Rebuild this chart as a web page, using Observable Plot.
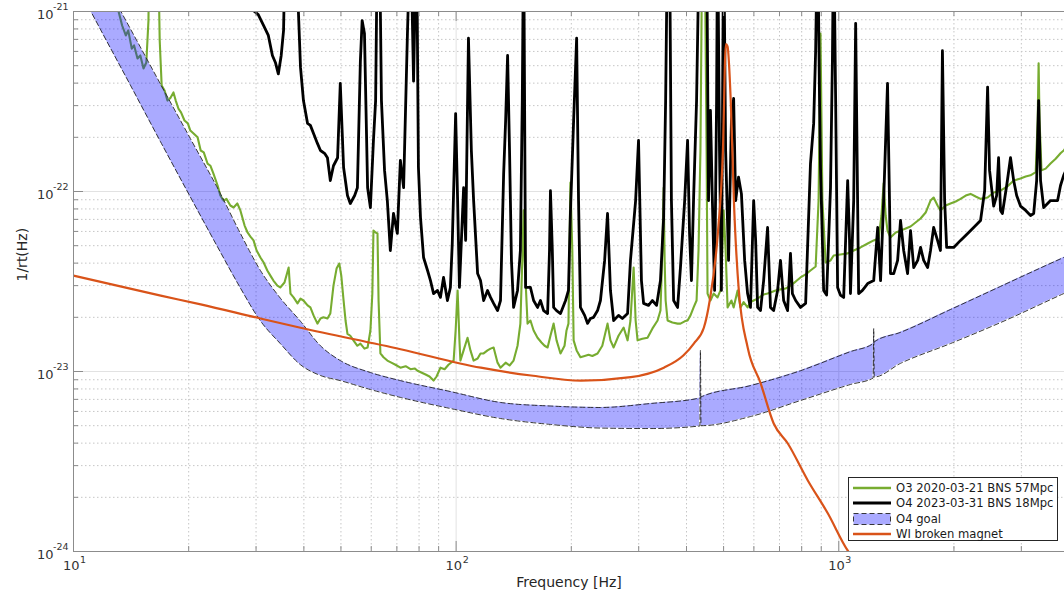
<!DOCTYPE html>
<html>
<head>
<meta charset="utf-8">
<script src="https://cdn.jsdelivr.net/npm/d3@7"></script>
<script src="https://cdn.jsdelivr.net/npm/@observablehq/plot@0.6"></script>
<style>
  body { margin: 0; background: #fff; }
  #wrap { position: relative; width: 1064px; height: 596px; overflow: hidden; font-family: "DejaVu Sans", sans-serif; }
  #legend { position: absolute; left: 848px; top: 477px; width: 210px; height: 64px; box-sizing: border-box;
            border: 1px solid #262626; background: #fff; padding-top: 2px; }
  .row { height: 15.5px; display: flex; align-items: center; font-size: 11.6px; color: #1a1a1a; white-space: nowrap; }
  .row svg { margin-left: 4px; margin-right: 5px; flex: none; }
</style>
</head>
<body>
<div id="wrap"><div id="chart"></div><div id="legend"></div></div>
<script>
// ---------------- data ----------------
const o3Freq = [12.6,13.1,13.4,13.7,13.9,14.2,14.4,14.7,14.95,15.24,15.5,15.7,15.8,16.6,16.8,17.0,17.3,17.6,17.9,18.25,18.5,18.8,19.1,19.5,19.9,20.2,20.6,21.1,21.5,21.9,22.4,22.8,23.2,23.8,24.2,24.7,25.1,25.7,26.2,26.8,27.3,28.0,28.5,29.0,29.55,30.1,30.8,31.4,32.1,32.7,33.3,34.1,34.7,35.6,36.5,36.9,37.6,38.5,39.2,39.9,40.9,41.6,42.4,43.4,44.2,45.0,46.1,46.9,47.8,48.7,49.5,50.1,50.8,51.4,52.0,52.9,53.9,55.2,56.2,57.6,58.7,59.7,60.4,60.8,61.6,62.3,62.7,63.4,64.6,66.1,67.7,69.4,71.5,73.8,76.0,77.9,79.3,81.1,83.2,85.2,87.3,88.9,91.0,93.3,95.5,98.5,99.7,100.9,102,102.6,104.6,107.1,109,111.1,113.8,115.8,118,120.8,123,125.3,128.3,130.6,134.7,137.9,141.3,144.7,147.2,148.9,150.1,151,153.7,156.4,159.4,163.2,167.1,170.3,173.4,176.4,179.8,183,187.4,192,194.3,196.6,197.8,198.9,201.2,202.8,206.5,211.3,216.7,221.9,227,234.2,241,248.7,253.1,258,265.7,274,280.6,285.5,291,294.5,298,306.7,316.4,325.7,336.1,342,345.9,348.6,350.7,352.8,357,367.4,379.1,385.7,395.6,402.6,409.7,417.5,425,430,435,440,446,451.4,454,462,470.9,482.2,490.7,496.3,500.2,506.2,512.2,524.2,531.2,544,553.5,564.2,577.7,587.9,599.2,613.6,624.4,636.3,651.6,663,683.9,704.2,726.3,747.8,771.5,794.3,819.2,843.5,870.1,885.6,895.9,906.2,924.1,951.5,969.8,1010,1055,1094,1140,1190,1234,1271,1293,1310,1326,1341,1365,1409,1450,1496,1540,1570,1636,1687,1737,1770,1812,1844,1903,1959,2021,2081,2147,2210,2279,2347,2449,2540,2647,2763,2865,2985,3080,3171,3271,3310,3329,3348,3387,3473,3576,3689,3798,3871,4034];
const o3Asd = [3e-21,1.01e-21,8.36e-22,7.36e-22,7.85e-22,6.22e-22,6.48e-22,5.48e-22,5.7e-22,4.82e-22,5.21e-22,8.9e-22,3e-21,3e-21,6.9e-22,3.88e-22,3.64e-22,3.2e-22,3.3e-22,3.55e-22,3.2e-22,2.89e-22,2.75e-22,2.48e-22,2.39e-22,2.18e-22,2.1e-22,2.0e-22,1.69e-22,1.65e-22,1.43e-22,1.39e-22,1.26e-22,1.08e-22,9.5e-23,8.9e-23,9.1e-23,8.36e-23,8.15e-23,8.58e-23,7.85e-23,6.47e-23,5.92e-23,5.62e-23,5.35e-23,4.7e-23,4.3e-23,4.03e-23,3.64e-23,3.41e-23,3.2e-23,3.0e-23,2.93e-23,3.12e-23,3.78e-23,2.71e-23,2.58e-23,2.39e-23,2.54e-23,2.48e-23,2.33e-23,2.27e-23,2.05e-23,1.845e-23,1.97e-23,2.0e-23,1.97e-23,2.1e-23,3.0e-23,3.73e-23,3.98e-23,3.41e-23,2.48e-23,1.92e-23,1.62e-23,1.58e-23,1.49e-23,1.39e-23,1.43e-23,1.34e-23,1.36e-23,1.69e-23,2.71e-23,6.06e-23,5.92e-23,5.85e-23,2.48e-23,1.26e-23,1.2e-23,1.15e-23,1.12e-23,1.09e-23,1.05e-23,1.07e-23,1.03e-23,1.04e-23,1.01e-23,9.87e-24,9.62e-24,9.38e-24,8.9e-24,9.38e-24,1.05e-23,1.03e-23,1.09e-23,1.15e-23,1.69e-23,2.82e-23,1.49e-23,1.15e-23,1.31e-23,1.54e-23,1.31e-23,1.15e-23,1.18e-23,1.26e-23,1.26e-23,1.31e-23,1.34e-23,1.36e-23,1.12e-23,1.05e-23,1.12e-23,1.08e-23,1.15e-23,1.39e-23,1.845e-23,4.14e-23,7.85e-23,4.14e-23,1.845e-23,1.92e-23,1.69e-23,1.54e-23,1.45e-23,1.39e-23,1.36e-23,1.58e-23,1.845e-23,1.49e-23,1.26e-23,1.39e-23,1.69e-23,1.845e-23,4.7e-23,1.12e-22,4.7e-23,1.49e-23,1.31e-23,1.2e-23,1.22e-23,1.24e-23,1.22e-23,1.26e-23,1.39e-23,1.845e-23,1.49e-23,1.36e-23,1.58e-23,1.755e-23,1.49e-23,1.92e-23,3.78e-23,1.92e-23,1.49e-23,1.52e-23,1.54e-23,1.73e-23,1.92e-23,2.18e-23,4.7e-23,1.05e-22,4.14e-23,2.48e-23,1.92e-23,1.87e-23,1.845e-23,1.845e-23,1.9e-23,1.92e-23,2.05e-23,2.27e-23,2.48e-23,4.7e-23,1.69e-22,3e-21,3e-21,1.69e-22,2.71e-23,2.48e-23,2.71e-23,2.58e-23,2.82e-23,4.7e-23,7.85e-23,4.7e-23,2.27e-23,2.48e-23,2.27e-23,2.82e-23,2.27e-23,2.43e-23,2.27e-23,2.43e-23,2.48e-23,2.54e-23,2.61e-23,2.68e-23,2.71e-23,2.75e-23,2.82e-23,2.86e-23,2.89e-23,3.0e-23,3.16e-23,3.33e-23,3.46e-23,3.64e-23,3.83e-23,8.9e-23,7.55e-22,8.9e-23,4.03e-23,4.14e-23,4.41e-23,4.47e-23,4.53e-23,4.7e-23,4.89e-23,5.14e-23,5.35e-23,5.48e-23,7.36e-23,1.11e-22,7.36e-23,6.06e-23,5.55e-23,5.92e-23,6.06e-23,6.23e-23,6.39e-23,6.6e-23,7.08e-23,7.64e-23,8.9e-23,9.26e-23,8.36e-23,7.85e-23,8.36e-23,8.58e-23,8.8e-23,9.1e-23,9.5e-23,9.7e-23,9.38e-23,9.1e-23,9.26e-23,9.87e-23,1.01e-22,1.07e-22,1.15e-22,1.18e-22,1.21e-22,1.23e-22,1.28e-22,2.48e-22,5.15e-22,2.48e-22,1.31e-22,1.34e-22,1.43e-22,1.52e-22,1.63e-22,1.69e-22,1.92e-22];

const o4Freq = [29.0,29.55,30.4,31.4,32.3,33.1,33.7,34.3,34.9,35.4,35.8,38.5,38.7,39.2,39.9,40.9,41.6,42.4,43.4,44.2,45.3,46.1,46.9,47.8,49.0,49.8,50.8,52.0,52.9,54.3,55.2,56.2,56.8,57.6,58.7,59.7,60.8,61.6,62.3,63.0,63.8,65.0,66.1,67.3,68.6,70.2,71.5,72.9,74.6,76.0,77.4,78.8,79.7,80.7,82.2,84.2,85.7,87.3,89.4,91.0,92.7,94.9,96.6,97.7,99.7,100.9,102,104.6,105.9,107.7,109.6,111.1,113.8,115.8,118,120.8,123,125.3,128.3,130.6,133.1,134.7,136.3,137.9,139.5,141.3,144.7,147.2,148.9,150.1,151.9,156.4,159.4,163.2,166.1,169.3,173.4,175.4,176.4,178.4,179.8,183,187.4,193.2,196.6,198.9,202.8,206.5,208.9,211.3,216.7,220.6,224.4,228.7,234.2,238.3,244.4,248.7,253.1,258,265.7,271.9,280.6,285.5,294.5,299.7,305,309,318.3,325.7,334.1,342,348.6,352.8,357,361.1,365.3,370.2,379.1,385.7,395.6,402.6,407.4,412.1,417.5,425,432.5,451.4,456.7,462,467.4,473.7,479.4,482.2,487.9,493.5,500.2,506.2,515.2,524.2,531.2,537.6,547.1,556.7,567.6,577.7,587.9,599.2,606.4,613.6,624.4,636.3,651.6,663,675.8,692,704.2,717.7,734.9,747.8,756.5,771.5,794.3,819.2,843.5,859.8,870.1,880.4,890.7,895.9,913.1,929.5,951.5,962.4,969.8,981.4,993.1,1010,1030,1055,1067,1073,1094,1107,1120,1127,1153,1190,1234,1264,1286,1310,1341,1357,1365,1392,1425,1450,1478,1513,1540,1570,1608,1636,1667,1707,1737,1770,1812,1844,1866,1891,1914,1959,1997,2081,2172,2252,2347,2406,2449,2478,2540,2586,2616,2647,2677,2747,2811,2865,2917,2985,3080,3171,3232,3290,3329,3368,3432,3514,3576,3732,3798,3871,4034];
const o4Asd = [3e-21,1.01e-21,9.6e-22,8.36e-22,7.36e-22,5.7e-22,5.21e-22,4.5e-22,5.7e-22,7.85e-22,3e-21,3e-21,1.01e-21,4.89e-22,3.2e-22,2.39e-22,2.33e-22,2.1e-22,1.85e-22,1.69e-22,1.63e-22,1.54e-22,1.15e-22,1.39e-22,1.54e-22,3.98e-22,1.36e-22,9.5e-23,8.58e-23,9.5e-23,1.05e-22,5.3e-22,8.9e-22,7.55e-22,1.05e-22,8.15e-23,1.92e-22,3.2e-22,3e-21,3e-21,3.2e-22,1.31e-22,8.9e-23,4.7e-23,7.55e-23,5.85e-23,1.49e-22,1.05e-22,7.55e-22,3e-21,4.1e-22,3e-21,1.36e-22,7.17e-23,4.3e-23,3.64e-23,3.2e-23,2.71e-23,2.82e-23,2.58e-23,3.33e-23,2.48e-23,2.93e-23,5.14e-23,2.71e-22,8.9e-23,2.93e-23,1.05e-22,5.35e-23,7.1e-22,1.69e-22,8.9e-23,3.5e-23,3.2e-23,2.48e-23,2.82e-23,2.58e-23,2.39e-23,2.18e-23,2.48e-23,1.26e-22,2.48e-22,5.7e-22,1.69e-22,4.14e-23,2.27e-23,2.82e-23,4.7e-23,3.2e-22,3e-21,2.93e-23,2.93e-23,2.48e-23,2.27e-23,2.48e-23,2.18e-23,2.1e-23,4.7e-23,1.01e-22,4.7e-23,2.27e-23,2.18e-23,2.1e-23,2.48e-23,2.82e-23,7.55e-23,2.48e-22,7.1e-22,8.9e-23,2.27e-23,2.05e-23,1.85e-23,1.97e-23,2.0e-23,2.18e-23,2.48e-23,4.14e-23,7.55e-23,2.82e-23,1.92e-23,2.05e-23,1.97e-23,2.1e-23,4.14e-23,8.9e-23,1.92e-22,3.2e-23,2.39e-23,2.33e-23,2.48e-23,2.33e-23,3.2e-23,7.17e-23,3.2e-22,3e-21,3e-21,8.9e-23,2.48e-23,2.27e-23,3.78e-23,8.9e-23,1.92e-22,5.85e-23,3.2e-23,9.26e-23,3.2e-22,3e-21,3e-21,8.9e-23,2.82e-22,8.9e-23,2.82e-23,3.2e-22,3e-21,1.69e-22,2.82e-23,3e-21,1.69e-22,4.14e-23,2.48e-22,3.29e-22,8.9e-23,1.2e-22,9.7e-23,4.14e-23,2.71e-23,2.27e-23,8.9e-23,5.35e-23,2.27e-23,2.18e-23,3.2e-23,6.31e-23,2.27e-23,2.18e-23,2.82e-23,4.14e-23,2.48e-23,2.18e-23,4.53e-23,2.71e-23,2.48e-23,2.27e-23,2.39e-23,1.43e-22,2.39e-22,6.06e-22,3e-21,3.2e-22,1.36e-22,2.82e-23,2.66e-23,1.05e-22,5.3e-22,3e-21,3.2e-22,2.93e-23,2.66e-23,2.58e-23,1.15e-22,5.35e-23,2.71e-23,8.9e-23,8.6e-22,8.9e-23,2.71e-23,2.82e-23,3.08e-23,3.2e-23,6.31e-23,3.2e-23,8.9e-23,3.98e-22,8.9e-23,3.5e-23,3.5e-23,4.14e-23,6.9e-23,4.7e-23,3.5e-23,6.06e-23,3.78e-23,4.14e-23,4.89e-23,4.14e-23,3.78e-23,4.7e-23,6.31e-23,5.35e-23,4.7e-23,6.06e-22,8.9e-23,4.89e-23,4.89e-23,4.89e-23,5.35e-23,5.85e-23,6.31e-23,6.9e-23,1.01e-22,3.8e-22,1.31e-22,8.3e-23,9.5e-23,1.54e-22,7.85e-23,7.55e-23,1.08e-22,1.54e-22,1.15e-22,9.5e-23,8.3e-23,7.85e-23,7.36e-23,7.55e-23,1.15e-22,3.2e-22,1.15e-22,8.15e-23,8.58e-23,8.9e-23,8.9e-23,1.08e-22,1.23e-22,1.49e-22];

const goalFreq = [10,11.75,14.08,16.86,20.2,24.2,27.3,30.8,34.7,39.2,44.2,49.8,59.7,71.5,96.6,130.6,176.4,238.3,322,433.5,435,436.5,587.9,794.3,1073,1230,1234,1238,1450,1959,2647,3871,4034];
const goalLow  = [1.52e-21,7.98e-22,3.9e-22,1.9e-22,9.33e-23,4.61e-23,2.91e-23,1.91e-23,1.43e-23,1.09e-23,9.5e-24,8.9e-24,7.94e-24,7.18e-24,6.23e-24,5.48e-24,5.08e-24,4.85e-24,4.82e-24,4.98e-24,1.31e-23,5.0e-24,5.62e-24,6.9e-24,8.47e-24,9.2e-24,1.73e-23,9.32e-24,1.11e-23,1.43e-23,1.87e-23,2.71e-23,2.82e-23];
const goalHigh = [3.04e-21,1.62e-21,8.02e-22,3.97e-22,1.97e-22,9.75e-23,5.85e-23,3.64e-23,2.56e-23,1.9e-23,1.39e-23,1.15e-23,9.87e-24,8.9e-24,7.74e-24,6.73e-24,6.43e-24,6.31e-24,6.64e-24,7.13e-24,7.18e-24,7.22e-24,8.35e-24,1.01e-23,1.29e-23,1.43e-23,1.45e-23,1.46e-23,1.65e-23,2.21e-23,2.97e-23,4.3e-23,4.47e-23];

const wiFreq = [10,16.9,21.5,30.8,39.2,71.6,116,157,212,286,349,393,418,444,460,483,498,507,512,522,532,548,578,625,676,736,830,936,1056,1100];
const wiAsd  = [3.41e-23,2.64e-23,2.36e-23,1.97e-23,1.75e-23,1.33e-23,1.05e-23,9.5e-24,8.9e-24,9.3e-24,1.05e-23,1.23e-23,1.43e-23,1.75e-23,2.48e-23,5.85e-23,1.69e-22,6.6e-22,6.4e-22,3.2e-22,8.9e-23,2.82e-23,1.36e-23,8.6e-24,5.14e-24,3.98e-24,2.48e-24,1.63e-24,1.01e-24,9e-25];

const legendLabels = ["O3 2020-03-21 BNS 57Mpc", "O4 2023-03-31 BNS 18Mpc", "O4 goal", "WI broken magnet"];

// axis ticks and their labels (base 10, exponent shown raised)
const xMajor = [10, 100, 1000];
const xExp = ["1", "2", "3"];
const xMinor = [20,30,40,50,60,70,80,90,200,300,400,500,600,700,800,900,2000,3000];
const yMajor = [1e-24, 1e-23, 1e-22, 1e-21];
const yExp = ["-24", "-23", "-22", "-21"];
const yMinor = [2e-24,3e-24,4e-24,5e-24,6e-24,7e-24,8e-24,9e-24,2e-23,3e-23,4e-23,5e-23,6e-23,7e-23,8e-23,9e-23,2e-22,3e-22,4e-22,5e-22,6e-22,7e-22,8e-22,9e-22];

// ---------------- build ----------------
const o3 = o3Freq.map((f, i) => ({f, v: o3Asd[i]}));
const o4 = o4Freq.map((f, i) => ({f, v: o4Asd[i]}));
const goal = goalFreq.map((f, i) => ({f, lo: goalLow[i], hi: goalHigh[i]}));
const wi = wiFreq.map((f, i) => ({f, v: wiAsd[i]}));
const xLab = xMajor.map((v, i) => ({v, e: xExp[i]}));
const yLab = yMajor.map((v, i) => ({v, e: yExp[i]}));

const C_O3 = "#77AC30", C_O4 = "#000000", C_WI = "#D95319";
const axisCol = "#8c8c8c", labCol = "#333";

const chart = Plot.plot({
  width: 1064, height: 596,
  marginLeft: 73, marginTop: 11, marginBottom: 45, marginRight: 0,
  x: {type: "log", domain: [10, 3890], axis: null},
  y: {type: "log", domain: [1e-24, 1e-21], axis: null},
  style: {fontFamily: "DejaVu Sans, sans-serif", fontSize: "13px", background: "#fff", color: "#333"},
  marks: [
    // grid
    Plot.ruleX(xMinor, {stroke: "#c6c6c6", strokeDasharray: "1.5,2.5", strokeWidth: 1}),
    Plot.ruleY(yMinor, {stroke: "#c6c6c6", strokeDasharray: "1.5,2.5", strokeWidth: 1}),
    Plot.ruleX(xMajor.slice(1), {stroke: "#e2e2e2", strokeWidth: 1}),
    Plot.ruleY(yMajor.slice(1, 3), {stroke: "#e2e2e2", strokeWidth: 1}),
    // data
    Plot.line(o3, {x: "f", y: "v", stroke: C_O3, strokeWidth: 2.1, clip: true}),
    Plot.line(o4, {x: "f", y: "v", stroke: C_O4, strokeWidth: 2.8, clip: true}),
    Plot.areaY(goal, {x: "f", y1: "lo", y2: "hi", fill: "blue", fillOpacity: 0.333, curve: "monotone-x", clip: true}),
    Plot.line(goal, {x: "f", y: "lo", stroke: "#222", strokeWidth: 0.9, strokeDasharray: "5,3", curve: "monotone-x", clip: true}),
    Plot.line(goal, {x: "f", y: "hi", stroke: "#222", strokeWidth: 0.9, strokeDasharray: "5,3", curve: "monotone-x", clip: true}),
    Plot.line(wi, {x: "f", y: "v", stroke: C_WI, strokeWidth: 2.2, curve: "monotone-x", clip: true}),
    // axes lines
    Plot.ruleX([10], {stroke: axisCol}),
    Plot.ruleY([1e-24], {stroke: axisCol}),
    Plot.ruleY([1e-21], {stroke: axisCol}),
    // inward ticks
    Plot.ruleX(xMajor, {stroke: axisCol, insetTop: 530}),
    Plot.ruleX(xMinor, {stroke: axisCol, insetTop: 535}),
    Plot.ruleX(xMajor, {stroke: axisCol, insetBottom: 530}),
    Plot.ruleX(xMinor, {stroke: axisCol, insetBottom: 535}),
    Plot.ruleY(yMajor, {stroke: axisCol, insetRight: 981}),
    Plot.ruleY(yMinor, {stroke: axisCol, insetRight: 986}),
    // tick labels: "10" plus raised exponent
    Plot.text(xLab, {x: "v", frameAnchor: "bottom", text: () => "10", textAnchor: "end", dx: 6, dy: 18, fontSize: 13, fill: labCol}),
    Plot.text(xLab, {x: "v", frameAnchor: "bottom", text: "e", textAnchor: "start", dx: 6.5, dy: 11, fontSize: 9.5, fill: labCol}),
    Plot.text(yLab, {y: "v", frameAnchor: "left", text: () => "10", textAnchor: "end", dx: -20, dy: 3, fontSize: 13, fill: labCol}),
    Plot.text(yLab, {y: "v", frameAnchor: "left", text: "e", textAnchor: "end", dx: -5, dy: -5, fontSize: 9.5, fill: labCol}),
    // axis titles
    Plot.text(["Frequency [Hz]"], {frameAnchor: "bottom", dy: 35, fontSize: 14, fill: "#262626"}),
    Plot.text(["1/rt(Hz)"], {frameAnchor: "left", dx: -51, rotate: -90, fontSize: 14, fill: "#262626"})
  ]
});
document.getElementById("chart").appendChild(chart);

// legend (inside the axes, lower right)
const legendKinds = [
  {type: "line", color: C_O3, width: 2.5},
  {type: "line", color: C_O4, width: 3},
  {type: "band"},
  {type: "line", color: C_WI, width: 2.5}
];
const legend = document.getElementById("legend");
legendLabels.forEach((lab, i) => {
  const k = legendKinds[i];
  const row = document.createElement("div");
  row.className = "row";
  const sw = k.type === "line"
    ? `<svg width="38" height="12"><line x1="0" x2="38" y1="6" y2="6" stroke="${k.color}" stroke-width="${k.width}"/></svg>`
    : `<svg width="38" height="12"><rect x="0.5" y="0.5" width="37" height="11" fill="blue" fill-opacity="0.333" stroke="#222" stroke-width="0.9" stroke-dasharray="5,3"/></svg>`;
  row.innerHTML = sw + `<span>${lab}</span>`;
  legend.appendChild(row);
});
</script>
</body>
</html>
